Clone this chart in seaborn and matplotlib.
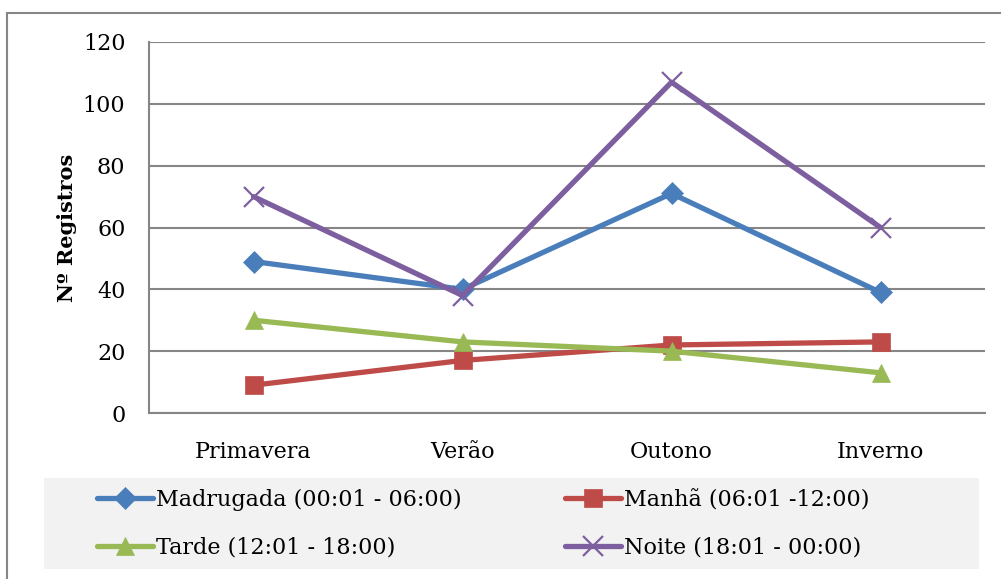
import matplotlib
matplotlib.use("Agg")
import matplotlib.pyplot as plt
from matplotlib.patches import Rectangle
import seaborn as sns
import pandas as pd

# Seasons and record counts per time-of-day period
seasons = ["Primavera", "Verão", "Outono", "Inverno"]
madrugada = [49, 40, 71, 39]
manha = [9, 17, 22, 23]
tarde = [30, 23, 20, 13]
noite = [70, 38, 107, 60]

series_names = [
    "Madrugada (00:01 - 06:00)",
    "Manhã (06:01 -12:00)",
    "Tarde (12:01 - 18:00)",
    "Noite (18:01 - 00:00)",
]
series_values = [madrugada, manha, tarde, noite]
colors = ["#4a7ebb", "#be4b48", "#98b954", "#7d5fa0"]
markers = ["D", "s", "^", "x"]
marker_sizes = [11, 13, 13, 14]

yticks = [0, 20, 40, 60, 80, 100, 120]

sns.set_theme(style="white")
plt.rcParams["font.family"] = ["DejaVu Serif"]
plt.rcParams["text.color"] = "black"
plt.rcParams["axes.labelcolor"] = "black"

fig = plt.figure(figsize=(10.01, 5.79), dpi=100)
ax = fig.add_axes([149 / 1001, 1 - 413 / 579, 836 / 1001, 371 / 579])

# outer chart frame
fig.patches.append(Rectangle((7 / 1001, -0.05), 1.1, 1 - 13 / 579 + 0.05,
                             transform=fig.transFigure, fill=False,
                             edgecolor="#868686", linewidth=1.5, zorder=0))
# legend background panel
fig.patches.append(Rectangle((44 / 1001, 1 - 569 / 579), 935 / 1001, 91 / 579,
                             transform=fig.transFigure, facecolor="#f2f2f2",
                             edgecolor="none", zorder=0))

rows = []
for name, vals in zip(series_names, series_values):
    for s, v in zip(seasons, vals):
        rows.append({"Estação": s, "Registros": v, "Período": name})
df = pd.DataFrame(rows)

for name, color, mk, ms in zip(series_names, colors, markers, marker_sizes):
    sub = df[df["Período"] == name]
    sns.lineplot(data=sub, x="Estação", y="Registros", ax=ax, color=color,
                 linewidth=3.8, marker=mk, markersize=ms,
                 markeredgecolor=color, markeredgewidth=1.6 if mk == "x" else 0.5,
                 label=name, sort=False)

ax.set_xlim(-0.5, 3.5)
ax.set_ylim(0, 120)
ax.set_yticks(yticks)
ax.set_yticklabels([str(t) for t in yticks])
ax.yaxis.grid(True, color="#868686", linewidth=1.5)
ax.set_axisbelow(True)
for side in ["top", "right"]:
    ax.spines[side].set_visible(False)
for side in ["left", "bottom"]:
    ax.spines[side].set_color("#868686")
    ax.spines[side].set_linewidth(1.5)
ax.tick_params(axis="both", length=0, labelsize=16, colors="black")
ax.tick_params(axis="y", pad=17)
ax.tick_params(axis="x", pad=20)
ax.set_xlabel("")
ax.set_ylabel("Nº Registros", fontsize=15, fontweight="bold", labelpad=4)

ax.get_legend().remove()
handles, labels = ax.get_legend_handles_labels()
leg_kw = dict(loc="center left", fontsize=16, frameon=False,
              handlelength=2.5, handletextpad=0.15, borderaxespad=0,
              labelspacing=1.15, borderpad=0, labelcolor="black")
leg_left = fig.legend([handles[0], handles[2]], [labels[0], labels[2]],
                      bbox_to_anchor=(97 / 1001, 1 - 524 / 579), **leg_kw)
leg_right = fig.legend([handles[1], handles[3]], [labels[1], labels[3]],
                       bbox_to_anchor=(565 / 1001, 1 - 524 / 579), **leg_kw)

fig.savefig("out.png", dpi=100)
